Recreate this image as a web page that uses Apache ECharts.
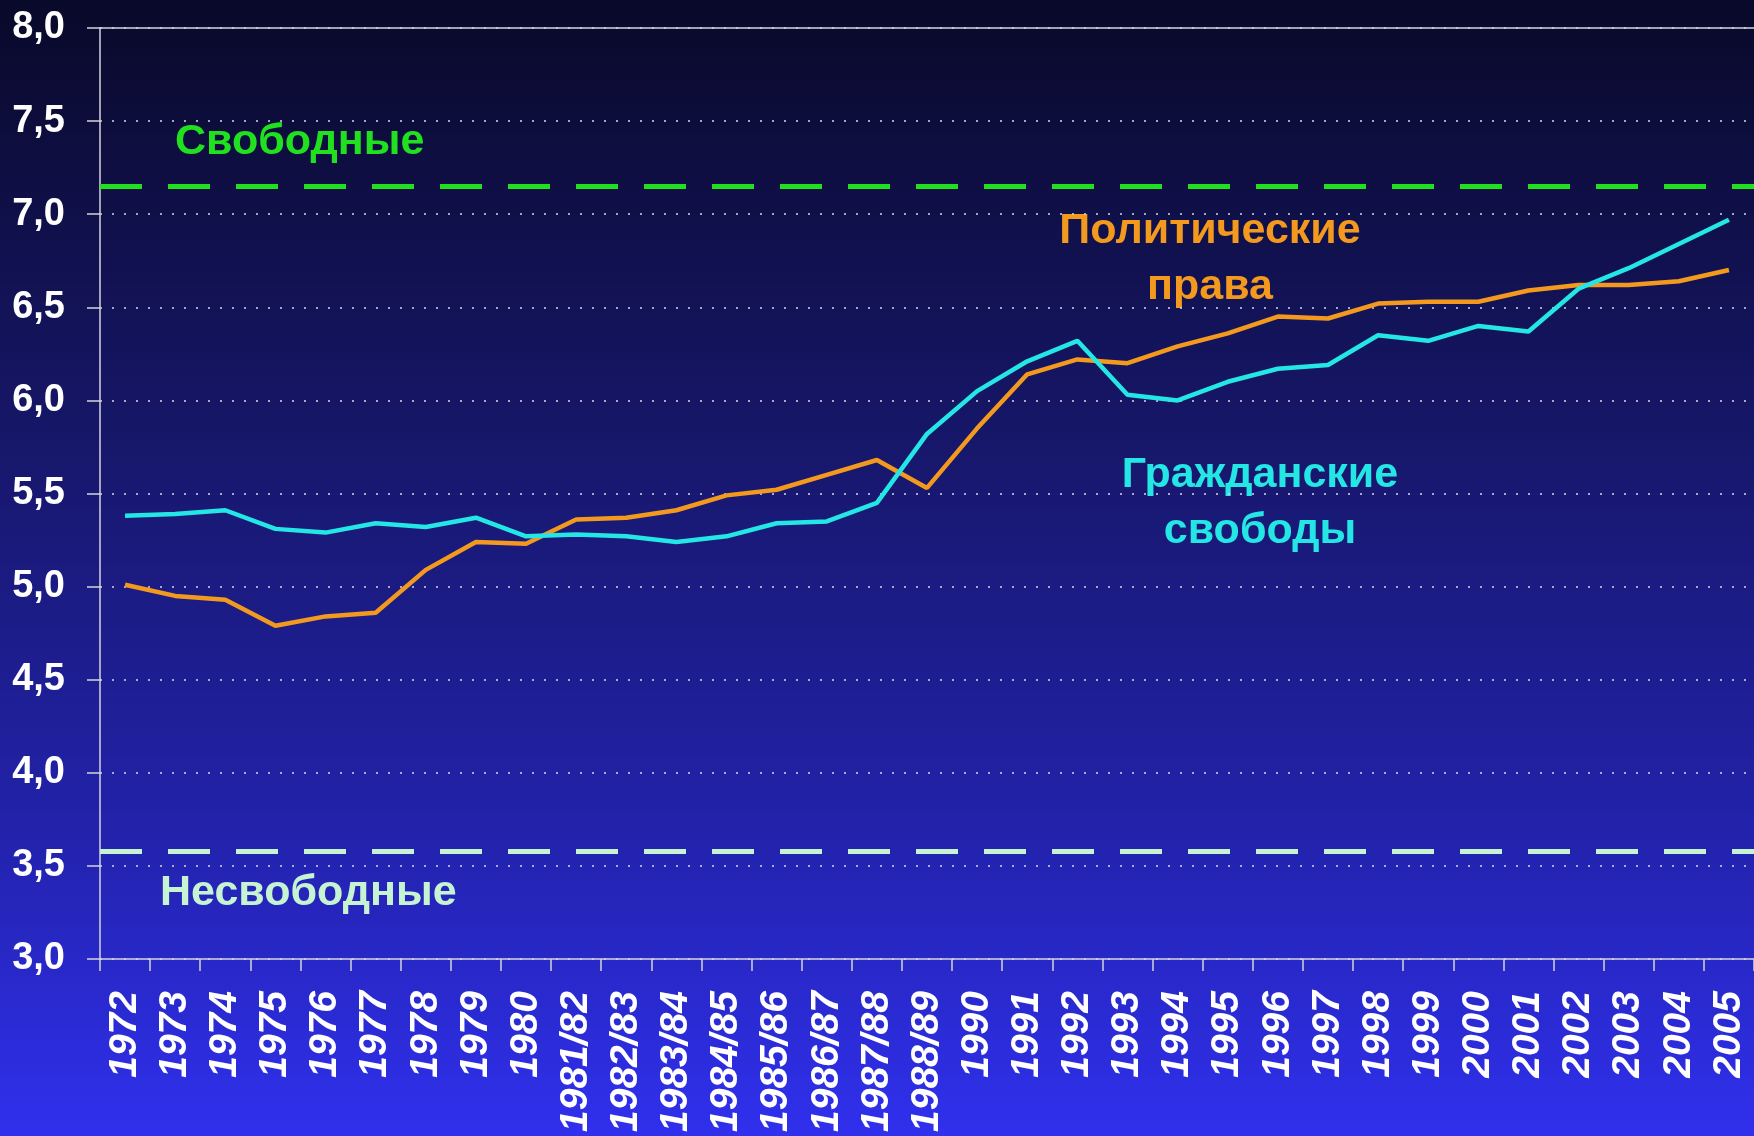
<!DOCTYPE html>
<html>
<head>
<meta charset="utf-8">
<script src="https://cdn.jsdelivr.net/npm/echarts@6/dist/echarts.min.js"></script>
<style>
  html, body { margin: 0; padding: 0; background: #0a0a2c; }
  #chart { width: 1754px; height: 1136px; }
</style>
</head>
<body>
<div id="chart"></div>
<script>
// Years / survey periods
const categories = ['1972','1973','1974','1975','1976','1977','1978','1979','1980',
  '1981/82','1982/83','1983/84','1984/85','1985/86','1986/87','1987/88','1988/89',
  '1990','1991','1992','1993','1994','1995','1996','1997','1998','1999','2000',
  '2001','2002','2003','2004','2005'];

// Политические права
const politicalRights = [5.01, 4.95, 4.93, 4.79, 4.84, 4.86, 5.09, 5.24, 5.23,
  5.36, 5.37, 5.41, 5.49, 5.52, 5.60, 5.68, 5.53,
  5.85, 6.14, 6.22, 6.20, 6.29, 6.36, 6.45, 6.44, 6.52, 6.53, 6.53,
  6.59, 6.62, 6.62, 6.64, 6.70];

// Гражданские свободы
const civilLiberties = [5.38, 5.39, 5.41, 5.31, 5.29, 5.34, 5.32, 5.37, 5.27,
  5.28, 5.27, 5.24, 5.27, 5.34, 5.35, 5.45, 5.82,
  6.05, 6.21, 6.32, 6.03, 6.00, 6.10, 6.17, 6.19, 6.35, 6.32, 6.40,
  6.37, 6.60, 6.71, 6.84, 6.97];

// Thresholds: "free" and "not free"
const freeThreshold = [7.15];
const notFreeThreshold = [3.58];

// Value-axis tick labels, 3,0 .. 8,0
const yTickLabels = ['3,0','3,5','4,0','4,5','5,0','5,5','6,0','6,5','7,0','7,5','8,0'];

const FONT = '"Liberation Sans", Arial, sans-serif';
const ORANGE = '#F39A1E';
const CYAN = '#24E6E4';
const GREEN = '#20E020';
const PALE_GREEN = '#C6F3D2';

const chart = echarts.init(document.getElementById('chart'), null, { renderer: 'canvas' });

const option = {
  backgroundColor: {
    type: 'linear', x: 0, y: 0, x2: 0, y2: 1,
    colorStops: [
      { offset: 0, color: '#09092a' },
      { offset: 0.4, color: '#17176c' },
      { offset: 0.75, color: '#2323b0' },
      { offset: 1, color: '#3030ee' }
    ]
  },
  animation: false,
  grid: { left: 100, top: 28, width: 1666, height: 931, containLabel: false },
  xAxis: [{
    type: 'category',
    data: categories,
    boundaryGap: true,
    axisLine: { show: true, lineStyle: { color: '#d4d4dc', width: 1.5 } },
    axisTick: { show: true, length: 12, alignWithLabel: false, inside: false,
      lineStyle: { color: '#d4d4dc', width: 1.5 } },
    axisLabel: {
      interval: 0, rotate: 90, margin: 32, color: '#ffffff',
      fontFamily: FONT, fontSize: 39, fontWeight: 'bold', fontStyle: 'italic',
      hideOverlap: false
    },
    splitLine: { show: false }
  }, {
    // frame line along the top of the plot
    type: 'category',
    data: categories,
    position: 'top',
    axisLine: { show: true, onZero: false, lineStyle: { color: '#d4d4dc', width: 1.5 } },
    axisTick: { show: false },
    axisLabel: { show: false },
    splitLine: { show: false }
  }],
  yAxis: {
    type: 'value',
    min: 3, max: 8, interval: 0.5,
    axisLine: { show: true, lineStyle: { color: '#d4d4dc', width: 1.5 } },
    axisTick: { show: true, length: 13, lineStyle: { color: '#d4d4dc', width: 1.5 } },
    axisLabel: {
      margin: 35, color: '#ffffff', fontFamily: FONT, fontSize: 38, fontWeight: 'bold',
      formatter: v => yTickLabels[Math.round((v - 3) / 0.5)]
    },
    splitLine: { show: true, lineStyle: { color: '#d8d8e6', width: 1.5, type: [2, 10] } }
  },
  series: [{
    name: 'Политические права',
    type: 'line',
    data: politicalRights,
    symbol: 'none',
    lineStyle: { color: ORANGE, width: 4.5 },
    z: 3,
    markLine: {
      silent: true,
      symbol: 'none',
      label: { show: false },
      data: [
        { yAxis: freeThreshold[0], lineStyle: { color: GREEN, width: 5, type: [42, 26] } },
        { yAxis: notFreeThreshold[0], lineStyle: { color: PALE_GREEN, width: 5, type: [42, 26] } }
      ]
    }
  }, {
    name: 'Гражданские свободы',
    type: 'line',
    data: civilLiberties,
    symbol: 'none',
    lineStyle: { color: CYAN, width: 4.5 },
    z: 4
  }],
  graphic: [
    { type: 'text', left: 175, top: 121,
      style: { text: 'Свободные', fill: GREEN, font: 'bold 43px ' + FONT } },
    { type: 'text', left: 160, top: 872,
      style: { text: 'Несвободные', fill: PALE_GREEN, font: 'bold 43px ' + FONT } },
    { type: 'text', x: 1210, y: 203,
      style: { text: 'Политические\nправа', fill: ORANGE, font: 'bold 43px ' + FONT,
        align: 'center', lineHeight: 56 } },
    { type: 'text', x: 1260, y: 447,
      style: { text: 'Гражданские\nсвободы', fill: CYAN, font: 'bold 43px ' + FONT,
        align: 'center', lineHeight: 56 } }
  ]
};

chart.setOption(option);
</script>
</body>
</html>
